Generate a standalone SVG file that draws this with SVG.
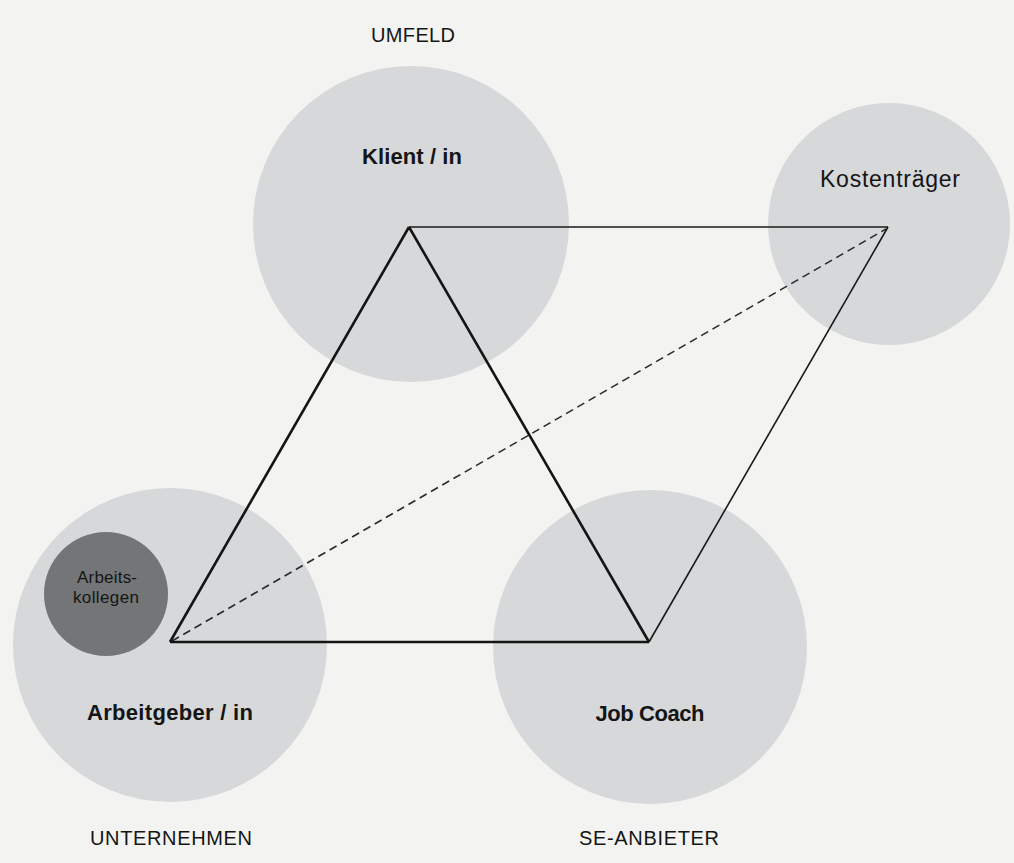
<svg xmlns="http://www.w3.org/2000/svg" width="1014" height="863" viewBox="0 0 1014 863">
<style>
.big{fill:#d6d8d9}
.small{fill:#737577}
.lbl{font-family:"Liberation Sans","DejaVu Sans",sans-serif;fill:#151515;text-anchor:middle}
.b{font-weight:bold}
.thick{stroke:#141414;stroke-width:2.6;fill:none}
.thin{stroke:#1a1a1a;stroke-width:1.6;fill:none}
.dash{stroke:#2a2a2a;stroke-width:1.6;fill:none;stroke-dasharray:8 5}
</style>
<rect width="1014" height="863" fill="#f3f4f2"/>
<g id="klient">
<circle class="big" cx="411" cy="224" r="158"/>
<text class="lbl" x="413" y="42" font-size="20" textLength="84">UMFELD</text>
<text class="lbl b" x="412" y="164" font-size="22" textLength="100">Klient / in</text>
</g>
<g id="kostentraeger">
<circle class="big" cx="889" cy="224" r="121"/>
<text class="lbl" x="890" y="187" font-size="23" textLength="140">Kostenträger</text>
</g>
<g id="arbeitgeber">
<circle class="big" cx="170" cy="645" r="157"/>
<text class="lbl b" x="170" y="720" font-size="22" textLength="166">Arbeitgeber / in</text>
<text class="lbl" x="171" y="845" font-size="20" textLength="162">UNTERNEHMEN</text>
</g>
<g id="arbeitskollegen">
<circle class="small" cx="106" cy="594" r="62"/>
<text class="lbl" x="107" y="583" font-size="17" textLength="60">Arbeits-</text>
<text class="lbl" x="106" y="603" font-size="17" textLength="66">kollegen</text>
</g>
<g id="jobcoach">
<circle class="big" cx="650" cy="647" r="157"/>
<text class="lbl b" x="650" y="721" font-size="22" textLength="109">Job Coach</text>
<text class="lbl" x="649" y="845" font-size="20" textLength="140">SE-ANBIETER</text>
</g>
<g id="connectors">
<line class="thin" x1="409" y1="227" x2="888" y2="227"/>
<line class="thin" x1="649" y1="642" x2="888" y2="227"/>
<line class="dash" x1="172" y1="641" x2="886" y2="229"/>
<line class="thick" x1="409" y1="227" x2="170" y2="642"/>
<line class="thick" x1="409" y1="227" x2="649" y2="642"/>
<line class="thick" x1="170" y1="642" x2="649" y2="642"/>
</g>
</svg>
